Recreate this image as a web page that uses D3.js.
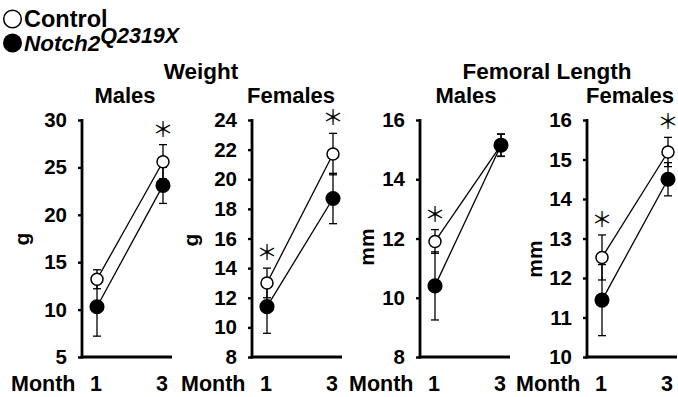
<!DOCTYPE html>
<html><head><meta charset="utf-8">
<script src="https://cdn.jsdelivr.net/npm/d3@7"></script>
<style>
body{margin:0;background:#fff;}
text{font-family:"Liberation Sans",Arial,sans-serif;fill:#000;}
text.ast{font-family:"Noto Sans CJK JP","Noto Sans CJK SC",sans-serif;}
</style></head>
<body><svg id="c" width="678" height="397"></svg>
<script>
const months = ["1", "3"];
const seriesNames = ["Control", "Notch2"];
const groupTitles = ["Weight", "Femoral Length"];
const panelTitles = ["Males", "Females", "Males", "Females"];
const unitLabels = ["g", "g", "mm", "mm"];
const yDomains = [[5, 30], [8, 24], [8, 16], [10, 16]];
const yTicks = [[5, 10, 15, 20, 25, 30], [8, 10, 12, 14, 16, 18, 20, 22, 24], [8, 10, 12, 14, 16], [10, 11, 12, 13, 14, 15, 16]];
// means per panel: [month1, month3]
const controlMean = [[13.2, 25.6], [13.0, 21.7], [11.9, 15.15], [12.52, 15.19]];
const controlErr  = [[1.0, 1.8], [1.0, 1.4], [0.4, 0.38], [0.57, 0.37]];
const mutantMean  = [[10.3, 23.1], [11.4, 18.7], [10.4, 15.15], [11.44, 14.5]];
const mutantErr   = [[3.1, 1.9], [1.8, 1.7], [1.15, 0.37], [0.9, 0.42]];
// significance marks: [panel, monthIndex]
const significant = [[0, 1], [1, 0], [1, 1], [2, 0], [3, 0], [3, 1]];

const svg = d3.select("#c");
const axisX = [82, 252, 420, 587];
const titleX = [125, 291, 466, 630];
const yTop = 120, yBot = 357;
const font = '"Liberation Sans",Arial,sans-serif';

// legend
svg.append("circle").attr("cx", 12.5).attr("cy", 19).attr("r", 8.8).attr("fill", "#fff").attr("stroke", "#000").attr("stroke-width", 1.5);
svg.append("circle").attr("cx", 12.5).attr("cy", 43).attr("r", 9.5).attr("fill", "#000");
svg.append("text").attr("x", 24).attr("y", 27).attr("font-size", 23.5).attr("font-weight", "bold").text(seriesNames[0]);
const lt = svg.append("text").attr("x", 24).attr("y", 51).attr("font-size", 22.5).attr("font-weight", "bold").attr("font-style", "italic");
lt.append("tspan").text(seriesNames[1]);
lt.append("tspan").attr("dy", -8).attr("font-size", 21.5).text("Q2319X");

// group titles
svg.append("text").attr("x", 201).attr("y", 79).attr("text-anchor", "middle").attr("font-size", 22.5).attr("font-weight", "bold").text(groupTitles[0]);
svg.append("text").attr("x", 547).attr("y", 79).attr("text-anchor", "middle").attr("font-size", 22.5).attr("font-weight", "bold").text(groupTitles[1]);

const ylabOffset = [-53, -54, -46, -45];
const ylabY = [239, 240, 247, 259];

for (let p = 0; p < 4; p++) {
  const ax = axisX[p];
  const g = svg.append("g");
  const y = d3.scaleLinear().domain(yDomains[p]).range([yBot, yTop]);
  const x = d3.scalePoint().domain(months).range([ax + 15, ax + 81]);

  // panel title
  g.append("text").attr("x", titleX[p]).attr("y", 103).attr("text-anchor", "middle")
    .attr("font-size", 22).attr("font-weight", "bold").text(panelTitles[p]);

  // y axis
  const ya = g.append("g").attr("transform", `translate(${ax},0)`)
    .call(d3.axisLeft(y).tickValues(yTicks[p]).tickSize(4).tickSizeOuter(0).tickPadding(11).tickFormat(d3.format("d")));
  ya.select(".domain").attr("stroke-width", 2.8).attr("d", `M0,${yTop - 1}V${yBot + 1.4}`);
  ya.selectAll(".tick line").attr("stroke-width", 2.4);
  ya.selectAll(".tick text").attr("font-size", 20.5).attr("font-weight", "bold").attr("font-family", font).attr("fill", "#000");

  // x axis baseline
  g.append("line").attr("x1", ax - 1.4).attr("x2", ax + 90).attr("y1", yBot).attr("y2", yBot)
    .attr("stroke", "#000").attr("stroke-width", 2.8);

  // unit label
  g.append("text").attr("transform", `translate(${ax + ylabOffset[p]},${ylabY[p]}) rotate(-90)`)
    .attr("text-anchor", "middle").attr("font-size", 21).attr("font-weight", "bold").text(unitLabels[p]);

  // x labels
  g.append("text").attr("x", ax - 71).attr("y", 391).attr("font-size", 21.5).attr("font-weight", "bold").text("Month");
  months.forEach(m => {
    g.append("text").attr("x", x(m) - 1).attr("y", 391).attr("text-anchor", "middle").attr("font-size", 21.5).attr("font-weight", "bold").text(m);
  });

  const series = [
    {mean: controlMean[p], err: controlErr[p], fill: "#fff"},
    {mean: mutantMean[p], err: mutantErr[p], fill: "#000"}
  ];
  const line = d3.line().x((d, i) => x(months[i])).y(d => y(d));
  series.forEach(s => {
    g.append("path").attr("d", line(s.mean)).attr("fill", "none").attr("stroke", "#000").attr("stroke-width", 1.3);
  });
  series.forEach(s => {
    s.mean.forEach((v, i) => {
      const cx = x(months[i]);
      const lo = y(v - s.err[i]), hi = y(v + s.err[i]);
      g.append("line").attr("x1", cx).attr("x2", cx).attr("y1", lo).attr("y2", hi).attr("stroke", "#000").attr("stroke-width", 1.3);
      [lo, hi].forEach(yy => g.append("line").attr("x1", cx - 4).attr("x2", cx + 4).attr("y1", yy).attr("y2", yy).attr("stroke", "#000").attr("stroke-width", 1.3));
    });
  });
  series.forEach(s => {
    s.mean.forEach((v, i) => {
      g.append("circle").attr("cx", x(months[i])).attr("cy", y(v)).attr("r", s.fill === "#fff" ? 6 : 6.8)
        .attr("fill", s.fill).attr("stroke", "#000").attr("stroke-width", 1.5);
    });
  });

  // significance asterisks
  significant.filter(d => d[0] === p).forEach(([, i]) => {
    const top = Math.min(y(controlMean[p][i] + controlErr[p][i]), y(mutantMean[p][i] + mutantErr[p][i]));
    g.append("text").attr("class", "ast").attr("x", x(months[i])).attr("y", top - 17 + 9).attr("text-anchor", "middle")
      .attr("font-size", 21).text("\uFF0A");
  });
}
</script></body></html>
